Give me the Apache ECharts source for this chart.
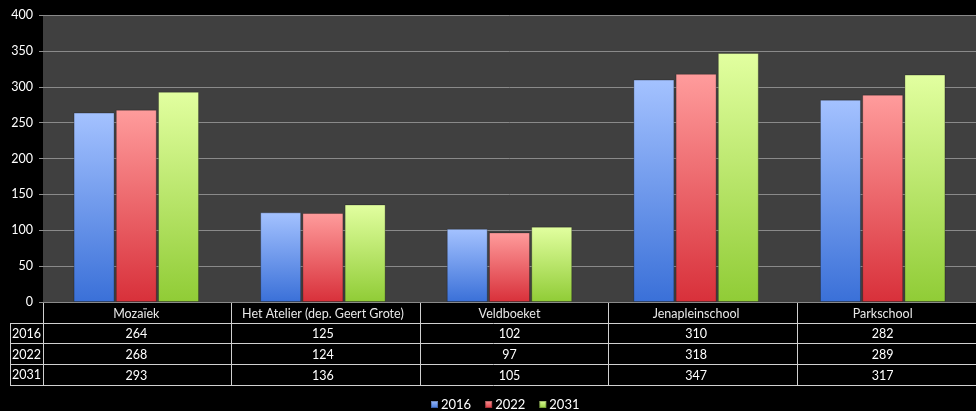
<!DOCTYPE html>
<html><head><meta charset="utf-8">
<script src="https://cdn.jsdelivr.net/npm/echarts@6/dist/echarts.min.js"></script>
<style>html,body{margin:0;padding:0;background:#000;}#c{width:976px;height:411px;}</style>
</head><body><div id="c"></div>
<script>
const categories = ['Mozaïek', 'Het Atelier (dep. Geert Grote)', 'Veldboeket', 'Jenapleinschool', 'Parkschool'];
const seriesNames = ['2016', '2022', '2031'];
const v2016 = [264, 125, 102, 310, 282];
const v2022 = [268, 124, 97, 318, 289];
const v2031 = [293, 136, 105, 347, 317];
const yTicks = [0, 50, 100, 150, 200, 250, 300, 350, 400];

const values = [v2016, v2022, v2031];
const grads = [['#a4c2ff', '#3a70d8'], ['#ff9c9c', '#d8303a'], ['#e2ffa0', '#90cc36']];
const FONT = 'Lato';
const L = 43, R = 985, T = 15, B = 302;
const rowH = 20.7;
const chart = echarts.init(document.getElementById('c'), null, {renderer: 'canvas'});

function grad(c) {
  return new echarts.graphic.LinearGradient(0, 0, 0, 1, [{offset: 0, color: c[0]}, {offset: 1, color: c[1]}]);
}

const xAxes = [];
xAxes.push({type: 'category', data: categories, position: 'bottom', gridIndex: 0,
  axisLine: {show: false}, axisTick: {show: false}, splitLine: {show: false},
  axisLabel: {color: '#e8e8e8', fontFamily: FONT, fontSize: 12.5, margin: 5, interval: 0}});
values.forEach((arr, k) => {
  xAxes.push({type: 'category', data: categories, position: 'bottom', gridIndex: 0,
    offset: rowH * (k + 1),
    axisLine: {show: false}, axisTick: {show: false}, splitLine: {show: false},
    axisLabel: {color: '#ffffff', fontFamily: FONT, fontSize: 12.5, margin: 5, interval: 0,
      formatter: (v, i) => String(arr[i])}});
});

const graphics = [];
const lineStyle = {stroke: '#d0d0d0', lineWidth: 1};
const colW = (R - L) / categories.length;
graphics.push({type: 'line', shape: {x1: L, y1: B + 0.5, x2: R, y2: B + 0.5}, style: lineStyle, silent: true});
for (let k = 1; k <= 3; k++) {
  const y = Math.round(B + rowH * k) + 0.5;
  graphics.push({type: 'line', shape: {x1: 10, y1: y, x2: R, y2: y}, style: lineStyle, silent: true});
}
const yEnd = Math.round(B + rowH * 4) + 0.5;
graphics.push({type: 'line', shape: {x1: 10, y1: yEnd, x2: R, y2: yEnd}, style: lineStyle, silent: true});
for (let i = 0; i <= categories.length; i++) {
  const x = Math.round(L + colW * i) + 0.5;
  graphics.push({type: 'line', shape: {x1: x, y1: B, x2: x, y2: yEnd}, style: lineStyle, silent: true});
}
graphics.push({type: 'line', shape: {x1: 10.5, y1: Math.round(B + rowH) + 0.5, x2: 10.5, y2: yEnd}, style: lineStyle, silent: true});
seriesNames.forEach((n, k) => {
  graphics.push({type: 'text', x: 26.5, y: B + rowH * (k + 1) + rowH / 2 + 1, silent: true,
    style: {text: n, fill: '#ffffff', font: '12.5px ' + FONT, textAlign: 'center', textVerticalAlign: 'middle'}});
});

chart.setOption({
  backgroundColor: '#000000',
  animation: false,
  grid: {left: L, right: 976 - R, top: T, bottom: 411 - B, containLabel: false,
    show: true, backgroundColor: '#404040', borderWidth: 0},
  legend: {top: 398, left: 430, padding: 0, itemWidth: 7, itemHeight: 7, itemGap: 13,
    textStyle: {color: '#ffffff', fontFamily: FONT, fontSize: 13, padding: [0, 0, 0, -2]},
    data: seriesNames.map((n, k) => ({name: n, icon: 'rect', itemStyle: {color: grad(grads[k])}}))},
  xAxis: xAxes,
  yAxis: {type: 'value', min: yTicks[0], max: yTicks[yTicks.length - 1], interval: 50,
    axisLine: {show: false},
    axisTick: {show: true, length: 4, lineStyle: {color: '#909090'}},
    splitLine: {show: true, lineStyle: {color: '#8a8a8a', width: 1}},
    axisLabel: {color: '#ffffff', fontFamily: FONT, fontSize: 12.5, margin: 10}},
  series: values.map((arr, k) => ({
    name: seriesNames[k], type: 'bar', xAxisIndex: 0, data: arr,
    barWidth: 41, barGap: '3%',
    itemStyle: {color: grad(grads[k]), borderColor: 'rgba(0,0,0,0.25)', borderWidth: 1}
  })),
  graphic: graphics
});
</script></body></html>
